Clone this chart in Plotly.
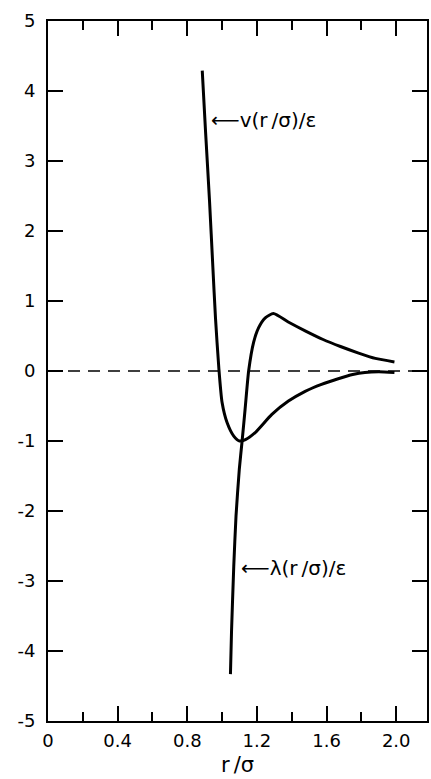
import plotly.graph_objects as go

# v(r/sigma)/epsilon
v_x = [0.886, 0.905, 0.928, 0.947, 0.962, 0.981, 1.000, 1.029, 1.067, 1.100, 1.134,
       1.190, 1.286, 1.381, 1.477, 1.571, 1.667, 1.750, 1.820, 1.900, 1.990]
v_y = [4.29, 3.42, 2.42, 1.48, 0.76, 0.05, -0.45, -0.74, -0.93, -1.00, -0.98,
       -0.88, -0.62, -0.43, -0.29, -0.19, -0.11, -0.05, -0.02, -0.01, -0.02]

# lambda(r/sigma)/epsilon
lam_x = [1.048, 1.054, 1.067, 1.080, 1.099, 1.115, 1.132, 1.153, 1.181, 1.210, 1.248,
         1.295, 1.380, 1.480, 1.580, 1.680, 1.780, 1.880, 1.990]
lam_y = [-4.33, -3.74, -2.79, -2.07, -1.40, -1.00, -0.55, 0.01, 0.41, 0.62, 0.76,
         0.82, 0.70, 0.57, 0.45, 0.35, 0.26, 0.18, 0.13]

x_tickvals = [0, 0.4, 0.8, 1.2, 1.6, 2.0]
x_ticktext = ["0", "0.4", "0.8", "1.2", "1.6", "2.0"]
x_minor = [0.2, 0.6, 1.0, 1.4, 1.8]
y_tickvals = [-5, -4, -3, -2, -1, 0, 1, 2, 3, 4, 5]
y_ticktext = ["-5", "-4", "-3", "-2", "-1", "0", "1", "2", "3", "4", "5"]

FONT = "DejaVu Sans"
TS = "\u2009"  # thin space

fig = go.Figure()
fig.add_trace(go.Scatter(x=v_x, y=v_y, mode="lines",
                         line=dict(color="black", width=3, shape="spline", smoothing=0.6),
                         showlegend=False, hoverinfo="skip"))
fig.add_trace(go.Scatter(x=lam_x, y=lam_y, mode="lines",
                         line=dict(color="black", width=3, shape="spline", smoothing=0.6),
                         showlegend=False, hoverinfo="skip"))

fig.add_shape(type="line", xref="x domain", yref="y", x0=0, x1=1, y0=0, y1=0,
              line=dict(color="black", width=1.3, dash="12px,8px"))

label_v = "⟵v(r" + TS + "/σ)/ε"
label_l = "⟵λ(r" + TS + "/σ)/ε"
fig.add_annotation(x=0.924, y=3.586, xref="x", yref="y", text=label_v,
                   showarrow=False, xanchor="left", yanchor="middle",
                   font=dict(family=FONT, size=20, color="black"))
fig.add_annotation(x=1.095, y=-2.81, xref="x", yref="y", text=label_l,
                   showarrow=False, xanchor="left", yanchor="middle",
                   font=dict(family=FONT, size=20, color="black"))

fig.update_layout(
    width=431, height=779, autosize=False,
    margin=dict(l=48, r=2, t=21, b=58),
    paper_bgcolor="white", plot_bgcolor="white",
    font=dict(family=FONT, size=18, color="black"),
    xaxis=dict(range=[0, 2.177], tickvals=x_tickvals, ticktext=x_ticktext,
               ticks="inside", ticklen=15, tickwidth=1.5, tickcolor="black",
               minor=dict(tickvals=x_minor, ticks="inside", ticklen=9,
                          tickwidth=1.5, tickcolor="black", showgrid=False),
               showline=True, linewidth=2, linecolor="black", mirror="allticks",
               showgrid=False, zeroline=False, ticklabelstandoff=2,
               title=dict(text="r" + TS + "/σ", font=dict(size=21), standoff=8),
               tickfont=dict(size=18)),
    yaxis=dict(range=[-5, 5], tickvals=y_tickvals, ticktext=y_ticktext,
               ticks="inside", ticklen=15, tickwidth=1.5, tickcolor="black",
               showline=True, linewidth=2, linecolor="black", mirror="allticks",
               showgrid=False, zeroline=False, ticklabelstandoff=7,
               tickfont=dict(size=18)),
)

fig.write_html("out.html", config={"displayModeBar": False},
               post_script="document.body.style.margin='0';document.body.style.overflow='hidden';")
